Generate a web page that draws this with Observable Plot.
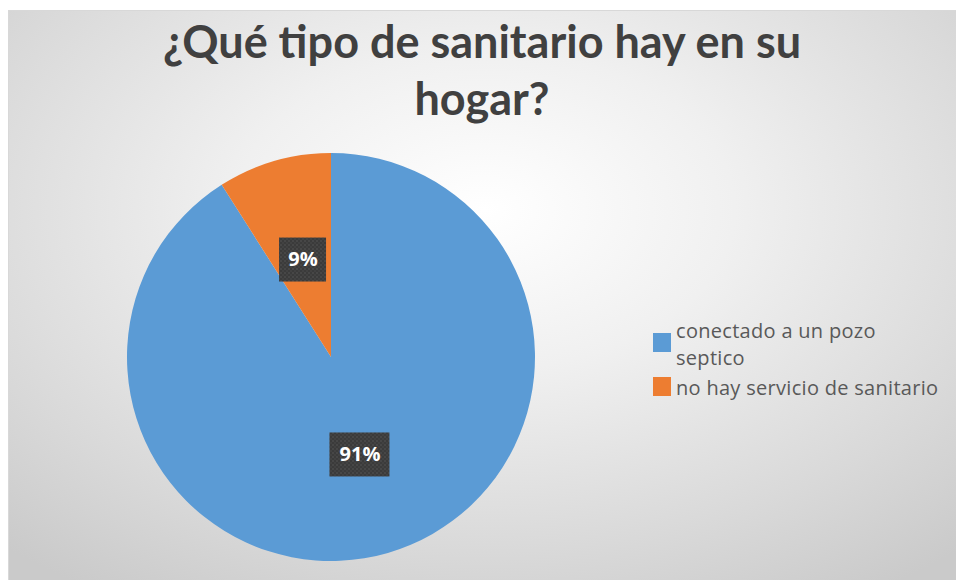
<!DOCTYPE html>
<html>
<head>
<meta charset="utf-8">
<script src="https://cdn.jsdelivr.net/npm/d3@7"></script>
<script src="https://cdn.jsdelivr.net/npm/@observablehq/plot@0.6"></script>
<style>
  html, body { margin: 0; padding: 0; background: #ffffff; }
  #wrap { position: relative; width: 956px; height: 581px; overflow: hidden; background: #ffffff; }
  #panel { position: absolute; left: 8px; top: 10px; width: 952px; height: 569px;
    background: radial-gradient(ellipse 75% 80% at 50% 35%, #ffffff 0%, #f0f0f0 35%, #d9d9d9 75%, #cacaca 100%);
    border-top: 1px solid #d8d8d8; border-left: 1px solid #d8d8d8; }
  #title { position: absolute; left: 8px; width: 948px; top: 13px; text-align: center;
    font-family: Lato, "Open Sans", sans-serif; font-weight: 700; font-size: 45px; line-height: 57px; color: #404040; }
  #chart { position: absolute; left: 0; top: 0; }
  #legend { position: absolute; left: 653px; top: 317px; font-family: "Open Sans", Lato, sans-serif; font-size: 20px; letter-spacing: 0.3px; color: #595959; line-height: 27px; white-space: nowrap; }
  .item { position: relative; padding-left: 23px; }
  .sw { position: absolute; left: 0; width: 18px; height: 19px; }
</style>
</head>
<body>
<div id="wrap">
  <div id="panel"></div>
  <div id="title">¿Qué tipo de sanitario hay en su<br>hogar?</div>
  <div id="chart"></div>
  <div id="legend"></div>
</div>
<script>
// ---- data ----
const categories = ["conectado a un pozo septico", "no hay servicio de sanitario"];
const values = [91, 9];
const labels = ["91%", "9%"];
const colors = ["#5B9BD5", "#ED7D31"];

const data = categories.map((c, i) => ({category: c, value: values[i], label: labels[i]}));
const arcs = d3.pie().value(d => d.value).sort(null)(data);
const labelPos = arcs.map(a => {
  const mid = (a.startAngle + a.endAngle) / 2;
  return {label: a.data.label, x: 0.5 * Math.sin(mid), y: 0.5 * Math.cos(mid), w: a.data.label.length > 2 ? 60 : 47};
});

function pieMark(index, scales, values_, dims, context) {
  const svg = d3.create("svg:g");
  const cx = scales.x(0), cy = scales.y(0);
  const r = scales.x(1) - scales.x(0);
  const arc = d3.arc().innerRadius(0).outerRadius(r);
  svg.selectAll("path").data(arcs).join("path")
    .attr("transform", `translate(${cx},${cy})`)
    .attr("d", arc)
    .attr("fill", (d, i) => colors[i]);
  return svg.node();
}

function boxMark(index, scales) {
  const g = d3.create("svg:g");
  const defs = g.append("defs");
  const pat = defs.append("pattern").attr("id", "dots").attr("width", 4).attr("height", 4).attr("patternUnits", "userSpaceOnUse");
  pat.append("rect").attr("width", 4).attr("height", 4).attr("fill", "#3b3b3b");
  pat.append("circle").attr("cx", 1).attr("cy", 1).attr("r", 0.8).attr("fill", "#555555");
  pat.append("circle").attr("cx", 3).attr("cy", 3).attr("r", 0.8).attr("fill", "#4a4a4a");
  g.selectAll("rect.box").data(labelPos).join("rect").attr("class", "box")
    .attr("x", d => scales.x(d.x) - d.w / 2)
    .attr("y", d => scales.y(d.y) - 22)
    .attr("width", d => d.w)
    .attr("height", 44)
    .attr("fill", "url(#dots)");
  return g.node();
}

const plot = Plot.plot({
  width: 956,
  height: 581,
  marginLeft: 127,
  marginRight: 421,
  marginTop: 154,
  marginBottom: 21,
  x: {domain: [-1, 1], axis: null},
  y: {domain: [-1, 1], axis: null},
  style: {background: "transparent", overflow: "visible"},
  marks: [
    pieMark,
    boxMark,
    Plot.text(labelPos, {x: "x", y: "y", text: "label", fill: "#ffffff", fontSize: 20, fontWeight: 700,
      fontFamily: "Open Sans, sans-serif"})
  ]
});
document.getElementById("chart").appendChild(plot);

const legend = d3.select("#legend");
const items = legend.selectAll("div.item").data(data).join("div").attr("class", "item")
  .style("margin-bottom", "3px");
items.append("span").attr("class", "sw").style("background", (d, i) => colors[i])
  .style("top", (d, i) => i === 0 ? "16px" : "3px");
items.append("span").html((d, i) => i === 0 ? "conectado a un pozo<br>septico" : d.category);
</script>
</body>
</html>
